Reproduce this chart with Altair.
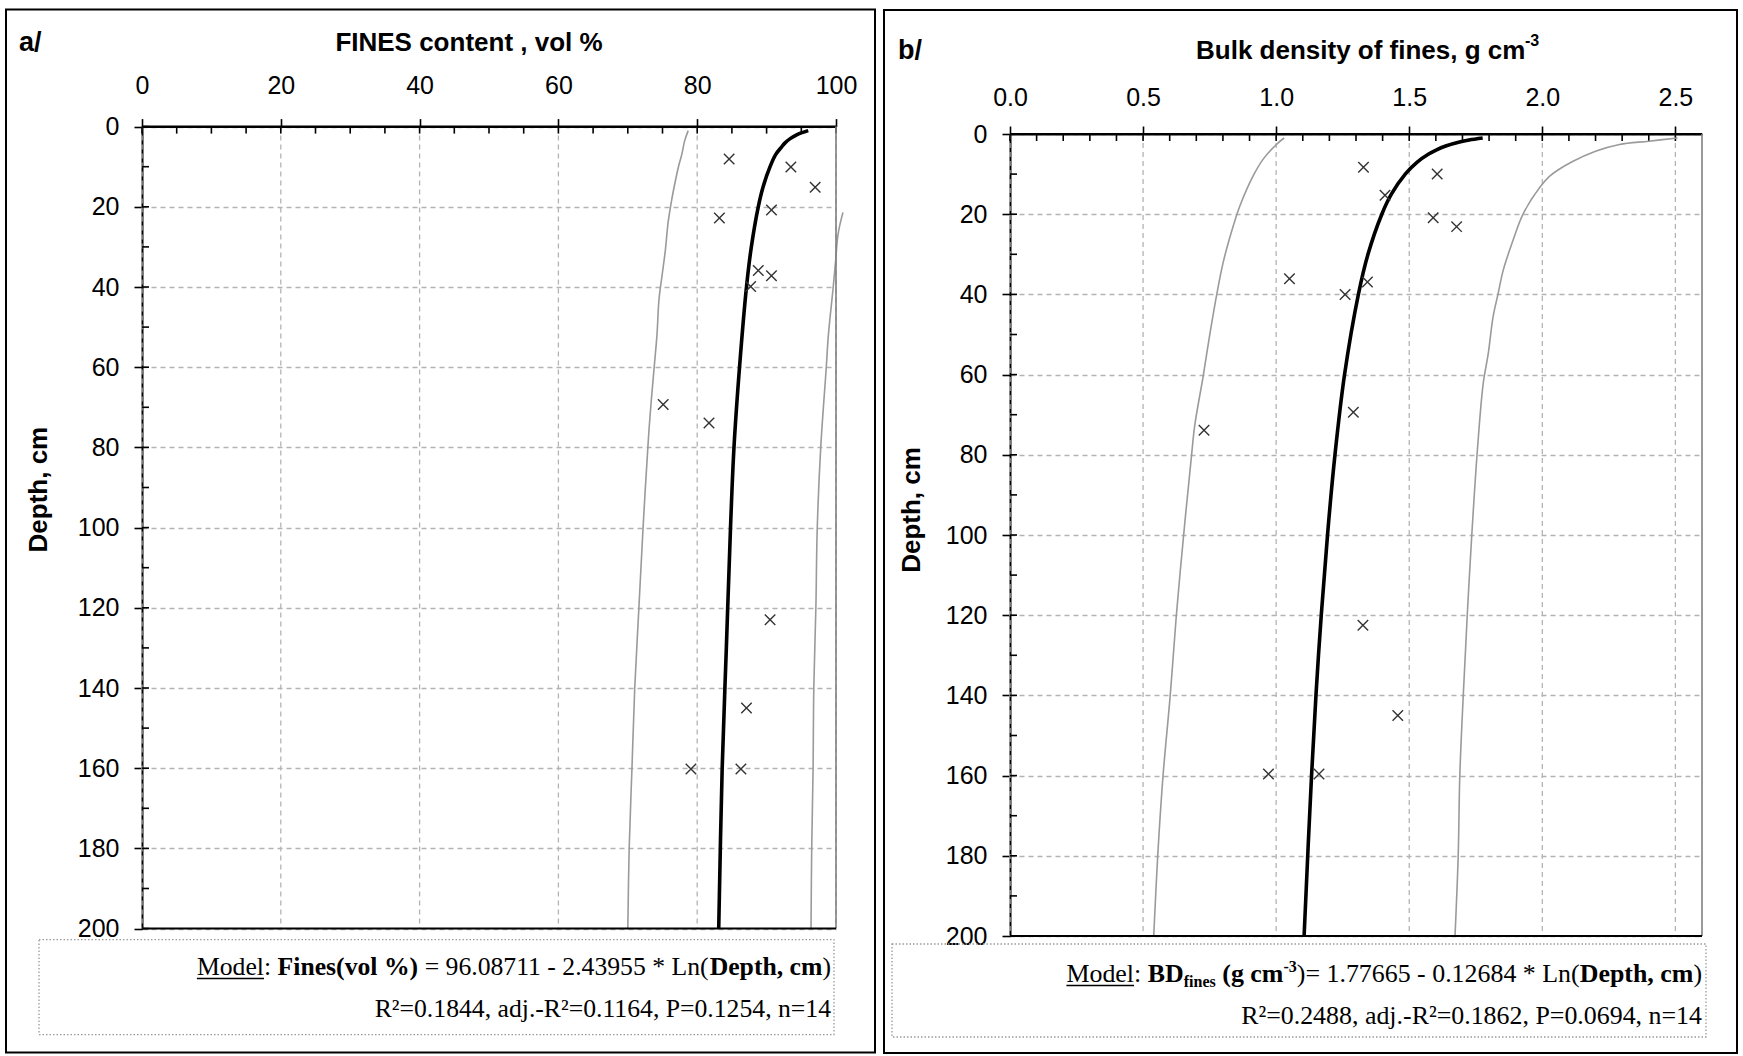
import altair as alt
import pandas as pd

# ---------------- data ----------------
# Panel a: fines content (vol %) vs depth (cm)
A_PTS_V = [84.6, 93.5, 97.0, 90.7, 83.2, 88.8, 90.7, 87.7, 75.1, 81.7, 90.5, 87.1, 79.1, 86.3]
A_PTS_D = [8.1, 10.1, 15.1, 20.8, 22.8, 35.9, 37.2, 39.9, 69.3, 73.9, 123.0, 145.0, 160.2, 160.2]

A_FIT_D = [1, 1.5, 2, 3, 4, 5, 7, 10, 15, 20, 30, 40, 60, 80, 100, 130, 160, 200]
A_FIT_V = [96.0, 95.1, 94.4, 93.4, 92.7, 92.2, 91.3, 90.5, 89.5, 88.8, 87.8, 87.1, 86.1, 85.3, 84.8, 84.2, 83.6, 83.1]

A_LO_D = [1, 3.5, 6.8, 10, 14, 18.5, 24, 31, 37.6, 43, 52, 60, 68, 77, 100, 120, 140, 160, 180, 200]
A_LO_V = [78.7, 78.2, 77.8, 77.3, 76.8, 76.3, 75.8, 75.4, 74.9, 74.5, 74.2, 73.8, 73.4, 73.0, 72.2, 71.6, 71.0, 70.6, 70.2, 70.0]

A_HI_D = [21.4, 26.8, 33.4, 40, 52, 60, 80, 100, 120, 140, 160, 180, 200]
A_HI_V = [101.0, 100.3, 99.95, 99.6, 98.9, 98.6, 97.8, 97.3, 97.1, 96.8, 96.7, 96.5, 96.4]

# Panel b: bulk density of fines (g cm-3) vs depth (cm)
B_PTS_V = [1.328, 1.605, 1.409, 1.590, 1.678, 1.050, 1.343, 1.259, 1.290, 0.729, 1.326, 1.457, 0.971, 1.161]
B_PTS_D = [8.3, 10.0, 15.3, 20.9, 23.1, 36.1, 36.9, 40.0, 69.4, 73.9, 122.5, 145.0, 159.6, 159.6]

B_FIT_D = [1, 1.5, 2, 3, 4, 5, 7, 10, 15, 20, 30, 40, 60, 80, 100, 130, 160, 200]
B_FIT_V = [1.776, 1.725, 1.689, 1.637, 1.601, 1.573, 1.530, 1.485, 1.433, 1.397, 1.345, 1.309, 1.257, 1.221, 1.193, 1.159, 1.133, 1.105]

B_LO_D = [1, 2.5, 6.2, 10.4, 17.9, 22.9, 32, 40.3, 51.1, 60.3, 72.7, 80.2, 96.8, 120, 140, 160, 180, 200]
B_LO_V = [1.03, 1.003, 0.952, 0.914, 0.864, 0.839, 0.801, 0.776, 0.748, 0.726, 0.694, 0.682, 0.657, 0.625, 0.602, 0.575, 0.555, 0.540]

B_HI_D = [1, 1.8, 2.6, 4.3, 7, 10.4, 13.3, 19.9, 26.5, 34, 39.8, 45.6, 54.7, 62.2, 78, 100, 120, 140, 160, 180, 200]
B_HI_V = [2.508, 2.40, 2.29, 2.20, 2.11, 2.03, 1.991, 1.928, 1.890, 1.853, 1.834, 1.815, 1.797, 1.778, 1.757, 1.735, 1.718, 1.703, 1.690, 1.684, 1.672]

# Ticks
A_X_TICKS = [0, 20, 40, 60, 80, 100]
A_X_MINOR = list(range(0, 101, 5))
B_X_TICKS = [0.0, 0.5, 1.0, 1.5, 2.0, 2.5]
B_X_MINOR = [round(i * 0.1, 1) for i in range(0, 26)]
Y_TICKS = list(range(0, 201, 20))
Y_MINOR = list(range(0, 201, 10))

# Texts
A_TITLE = "FINES content , vol %"
B_TITLE = "Bulk density of fines, g cm"
Y_TITLE = "Depth, cm"
A_STATS = "R\u00b2=0.1844, adj.-R\u00b2=0.1164, P=0.1254, n=14"
B_STATS = "R\u00b2=0.2488, adj.-R\u00b2=0.1862, P=0.0694, n=14"

SANS = "Liberation Sans, Arial, Helvetica, sans-serif"
SERIF = "Liberation Serif, Times New Roman, serif"
ONE = pd.DataFrame({"k": [0]})
H = 802
GRID = "#b3b3b3"


def txt(s, x, y, size, font=SANS, weight="normal", align="left", baseline="alphabetic", angle=None):
    mk = dict(align=align, baseline=baseline, font=font, fontSize=size,
              fontWeight=weight, color="black")
    if angle is not None:
        mk["angle"] = angle
    return alt.Chart(ONE).mark_text(**mk).encode(
        x=alt.value(x), y=alt.value(y), text=alt.value(s))


def rule_px(x1, x2, y1, y2, color="black", width=1.0):
    return alt.Chart(ONE).mark_rule(color=color, strokeWidth=width).encode(
        x=alt.value(x1), x2=alt.value(x2), y=alt.value(y1), y2=alt.value(y2))


def rect_px(x1, x2, y1, y2, stroke, width, dash=None):
    mk = dict(fill="white", fillOpacity=0, stroke=stroke, strokeWidth=width)
    if dash:
        mk["strokeDash"] = dash
    return alt.Chart(ONE).mark_rect(**mk).encode(
        x=alt.value(x1), x2=alt.value(x2), y=alt.value(y1), y2=alt.value(y2))


def model_line(segs, right, base, size):
    """segs: (text, weight, em-width*1000, scale, dy). Right aligned serif line."""
    total = sum(w * sc for _, _, w, sc, _ in segs) * size / 1000.0
    x = right - total
    layers = []
    start = x
    for t, wt, w, sc, dy in segs:
        lead = len(t) - len(t.lstrip(" "))
        layers.append(txt(t.strip(" "), x + lead * 250 * sc * size / 1000.0, base + dy,
                          size * sc, font=SERIF, weight=wt))
        x += w * sc * size / 1000.0
    ul = segs[0][2] * size / 1000.0
    layers.append(rule_px(start, start + ul, base + 3.5, base + 3.5, width=1.4))
    return layers


def panel(W, yoff, lpad, xdom, xticks, xminor, fmt, pts, fit, lo, hi, frame, texts):
    y0, y1 = yoff, yoff + H
    xs = alt.Scale(domain=xdom, nice=False, zero=False)
    ys = alt.Scale(domain=[0, 200], range=[y0, y1], nice=False, zero=False)
    common = dict(title=None, tickSize=8, tickWidth=1.6, tickColor="black",
                  domainColor="black", domainWidth=2, labelFont=SANS, labelFontSize=25,
                  labelColor="black", labelFlush=False, labelOverlap=False)
    X = alt.X("v:Q", scale=xs, axis=alt.Axis(orient="top", values=xticks, format=fmt,
                                             labelPadding=lpad, grid=False, offset=-yoff,
                                             **common))
    Y = alt.Y("d:Q", scale=ys, axis=alt.Axis(orient="left", values=Y_TICKS, format="d",
                                             labelPadding=15, grid=True, gridDash=[5, 4],
                                             gridColor=GRID, gridWidth=1.3, **common))

    df_pts = pd.DataFrame({"v": pts[0], "d": pts[1]})
    df_fit = pd.DataFrame({"v": fit[0], "d": fit[1]})
    df_lo = pd.DataFrame({"v": lo[0], "d": lo[1]})
    df_hi = pd.DataFrame({"v": hi[0], "d": hi[1]})
    df_xg = pd.DataFrame({"v": xticks})
    df_xm = pd.DataFrame({"v": xminor})
    df_ym = pd.DataFrame({"d": Y_MINOR})

    layers = [rect_px(*frame, stroke="black", width=2)]
    xg = alt.Chart(df_xg).mark_rule(color=GRID, strokeWidth=1.3, strokeDash=[5, 4]).encode(
        x=X, y=alt.value(y0), y2=alt.value(y1))
    xm = alt.Chart(df_xm).mark_rule(color="black", strokeWidth=1.6).encode(
        x=X, y=alt.value(y0), y2=alt.value(y0 + 7))
    ym = alt.Chart(df_ym).mark_rule(color="black", strokeWidth=1.6).encode(
        y=Y, x=alt.value(0), x2=alt.value(7))
    lo_l = alt.Chart(df_lo).mark_line(color="#9a9a9a", strokeWidth=1.6, interpolate="catmull-rom").encode(
        x=X, y=Y, order=alt.Order("d:Q"))
    hi_l = alt.Chart(df_hi).mark_line(color="#9a9a9a", strokeWidth=1.6, interpolate="catmull-rom").encode(
        x=X, y=Y, order=alt.Order("d:Q"))
    fit_l = alt.Chart(df_fit).mark_line(color="black", strokeWidth=3.6, interpolate="catmull-rom").encode(
        x=X, y=Y, order=alt.Order("d:Q"))
    pts_m = alt.Chart(df_pts).mark_point(shape="M -1 -1 L 1 1 M -1 1 L 1 -1", size=110,
                                         filled=False, color="#333333", strokeWidth=1.4,
                                         opacity=1).encode(x=X, y=Y)
    top = rule_px(0, W, y0, y0, color="black", width=2)
    right = rule_px(W, W, y0, y1, color="#808080", width=1.6)
    bottom = rule_px(0, W, y1, y1, color="black", width=2)
    layers += [xg, xm, ym, lo_l, hi_l, fit_l, pts_m, top, right, bottom]
    layers += texts
    return alt.layer(*layers).properties(width=W, height=H)


# ---------------- panel a (plot sits 7.4 px higher than panel b) ----------------
WA = 694
YA = -7.4
A_SEGS = [("Model", "normal", 2611, 1, 0), (": ", "normal", 528, 1, 0),
          ("Fines(vol %)", "bold", 5472, 1, 0),
          (" = 96.08711 - 2.43955 * Ln(", "normal", 11341, 1, 0),
          ("Depth, cm", "bold", 4388, 1, 0), (")", "normal", 333, 1, 0)]
a_texts = [
    rect_px(-103, 692, 805.6, 900.6, stroke="#9a9a9a", width=1.3, dash=[1.5, 2]),
    txt("a/", -123, -91.4, 27, weight="bold", baseline="middle"),
    txt(A_TITLE, 327, -91.4, 26, weight="bold", align="center", baseline="middle"),
    txt(Y_TITLE, -103, 355.6, 26, weight="bold", align="center", baseline="middle", angle=270),
    txt(A_STATS, 689, 883, 25.7, font=SERIF, align="right"),
] + model_line(A_SEGS, 689, 841, 25.7)

pa = panel(WA, YA, 20, [0, 100], A_X_TICKS, A_X_MINOR, "d",
           (A_PTS_V, A_PTS_D), (A_FIT_V, A_FIT_D), (A_LO_V, A_LO_D), (A_HI_V, A_HI_D),
           (-136, 733, -124.4, 918.6), a_texts)

# ---------------- panel b ----------------
WB = 692
B_SEGS = [("Model", "normal", 2611, 1, 0), (": ", "normal", 528, 1, 0),
          ("BD", "bold", 1389, 1, 0), ("fines", "bold", 2000, 0.62, 5),
          (" (g cm", "bold", 2610, 1, 0), ("-3", "bold", 833, 0.62, -10),
          (")= 1.77665 - 0.12684 * Ln(", "normal", 10924, 1, 0),
          ("Depth, cm", "bold", 4388, 1, 0), (")", "normal", 333, 1, 0)]
b_texts = [
    rect_px(-118, 696, 810, 903, stroke="#9a9a9a", width=1.3, dash=[1.5, 2]),
    txt("b/", -112, -83, 27, weight="bold", baseline="middle"),
    txt(B_TITLE, 186, -83, 26, weight="bold", baseline="middle"),
    txt("-3", 515, -93, 16, weight="bold", baseline="middle"),
    txt(Y_TITLE, -98, 376, 26, weight="bold", align="center", baseline="middle", angle=270),
    txt(B_STATS, 692, 890, 25.9, font=SERIF, align="right"),
] + model_line(B_SEGS, 692, 848, 25.9)

pb = panel(WB, 0, 16, [0, 2.6], B_X_TICKS, B_X_MINOR, ".1f",
           (B_PTS_V, B_PTS_D), (B_FIT_V, B_FIT_D), (B_LO_V, B_LO_D), (B_HI_V, B_HI_D),
           (-126, 727, -124, 919), b_texts)

chart = alt.hconcat(pa, pb, spacing=7).properties(
    padding={"left": 5, "top": 8, "right": 4, "bottom": 2},
    background="white",
).configure_view(stroke="transparent", strokeWidth=0)

chart.save("out.html", embed_options={"renderer": "svg", "actions": False})
